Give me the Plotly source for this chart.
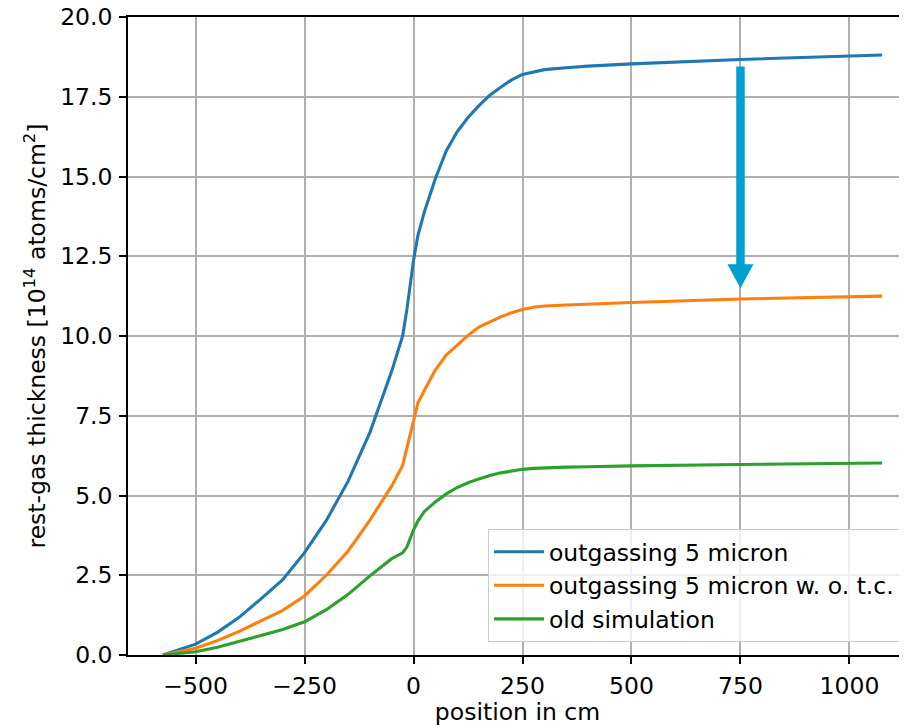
import plotly.graph_objects as go

# ---------------- data ----------------
position_cm = [-575, -500, -450, -400, -350, -300, -250, -200, -150, -100, -50, -25, -15,
               0, 10, 25, 50, 75, 100, 125, 150, 175, 200, 225, 250, 275, 300, 350, 400,
               500, 750, 1075]

outgassing_5_micron = [0.0, 0.34, 0.71, 1.18, 1.76, 2.36, 3.21, 4.22, 5.45, 6.98, 8.9, 10.0, 10.85,
                       12.37, 13.15, 13.9, 14.93, 15.8, 16.4, 16.85, 17.22, 17.55, 17.8, 18.03,
                       18.2, 18.28, 18.35, 18.41, 18.46, 18.53, 18.67, 18.81]

outgassing_5_micron_wotc = [0.0, 0.21, 0.45, 0.74, 1.07, 1.40, 1.85, 2.5, 3.26, 4.23, 5.3, 5.94, 6.5,
                            7.3, 7.9, 8.3, 8.93, 9.4, 9.72, 10.02, 10.28, 10.44, 10.6, 10.73,
                            10.83, 10.9, 10.94, 10.97, 11.0, 11.05, 11.16, 11.25]

old_simulation = [0.0, 0.10, 0.24, 0.42, 0.60, 0.80, 1.04, 1.42, 1.9, 2.48, 3.02, 3.2, 3.39,
                  3.92, 4.2, 4.5, 4.8, 5.05, 5.25, 5.4, 5.52, 5.63, 5.71, 5.77,
                  5.82, 5.85, 5.87, 5.89, 5.9, 5.93, 5.97, 6.02]

series_names = ["outgassing 5 micron", "outgassing 5 micron w. o. t.c.", "old simulation"]
series_colors = ["#1f77b4", "#ff7f0e", "#2ca02c"]

x_tick_values = [-500, -250, 0, 250, 500, 750, 1000]
x_tick_labels = ["\u2212500", "\u2212250", "0", "250", "500", "750", "1000"]
y_tick_values = [0, 2.5, 5, 7.5, 10, 12.5, 15, 17.5, 20]
y_tick_labels = ["0.0", "2.5", "5.0", "7.5", "10.0", "12.5", "15.0", "17.5", "20.0"]

arrow_x = 750
arrow_top = 18.45
arrow_tip = 11.5
arrow_color = "#00a0d2"

FS = 23.5

# ---------------- figure ----------------
fig = go.Figure()
for name, ys, col in zip(series_names,
                         [outgassing_5_micron, outgassing_5_micron_wotc, old_simulation],
                         series_colors):
    fig.add_trace(go.Scatter(x=position_cm, y=ys, mode="lines", name=name,
                             line=dict(color=col, width=3.1)))

# arrow: shaft + head (head sized in pixels, anchored at the tip)
fig.add_shape(type="line", xref="x", yref="y", x0=arrow_x, x1=arrow_x,
              y0=arrow_top, y1=arrow_tip + 0.5,
              line=dict(color=arrow_color, width=8.5), layer="above")
fig.add_shape(type="path", xref="x", yref="y", xsizemode="pixel", ysizemode="pixel",
              xanchor=arrow_x, yanchor=arrow_tip,
              path="M-13,24 L13,24 L0,0 Z",
              fillcolor=arrow_color, line=dict(width=0), layer="above")

axis_common = dict(
    showgrid=True, gridcolor="#b0b0b0", gridwidth=1.6,
    showline=True, linecolor="black", linewidth=1.6,
    ticks="outside", ticklen=7, tickwidth=1.6, tickcolor="black",
    zeroline=False, automargin=False, ticklabeloverflow="allow",
    tickfont=dict(size=FS, color="black"),
)

# the page adds an 8px body margin, so the figure is sized/offset to compensate
fig.update_layout(
    width=899, height=718,
    margin=dict(l=120, r=0, t=9, b=71),
    paper_bgcolor="white", plot_bgcolor="white",
    font=dict(family="DejaVu Sans", size=FS, color="black"),
    xaxis=dict(range=[-655, 1132], tickvals=x_tick_values, ticktext=x_tick_labels,
               mirror=True, ticklabelstandoff=2,
               title=dict(text="position in cm", standoff=2, font=dict(size=FS)),
               **axis_common),
    yaxis=dict(range=[0, 20], tickvals=y_tick_values, ticktext=y_tick_labels,
               ticklabelstandoff=2,
               title=dict(text="rest-gas thickness [10<sup>14</sup> atoms/cm<sup>2</sup>]",
                          standoff=8, font=dict(size=FS)),
               **axis_common),
    legend=dict(x=0.991, y=0.0204, xanchor="right", yanchor="bottom",
                bgcolor="rgba(255,255,255,0.8)", bordercolor="#cccccc", borderwidth=1,
                font=dict(size=FS, color="black"), itemwidth=50,
                tracegroupgap=0),
    showlegend=True,
)

fig.write_html("out.html")
